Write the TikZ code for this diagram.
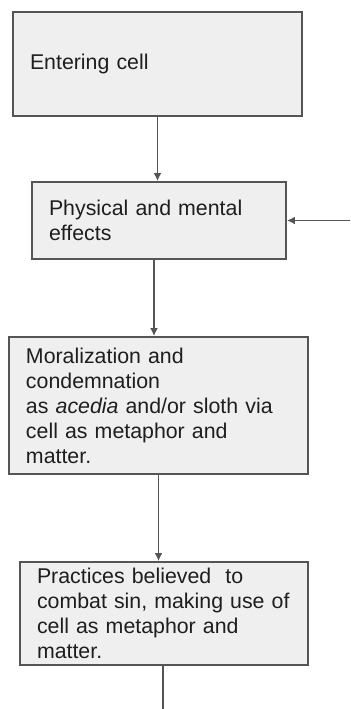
\documentclass[tikz,border=0pt]{standalone}
\usepackage{fontspec}
\setmainfont{Liberation Sans}
\usetikzlibrary{arrows.meta}
\definecolor{boxfill}{HTML}{EFEFEF}
\definecolor{boxline}{HTML}{555555}
\definecolor{inktext}{HTML}{1E1E1E}
\begin{document}
\begin{tikzpicture}[x=0.75pt,y=-0.75pt,
    stage/.style={draw=boxline, line width=1.4pt, fill=boxfill, align=left,
      inner xsep=12.75pt, inner ysep=0pt, text=inktext,
      font=\fontsize{16}{18.75}\selectfont},
    flow/.style={draw=boxline, line width=1.3pt, -{Latex[length=6pt,width=6pt]}}]
        \useasboundingbox (0,0) rectangle (350,709);

        \node[stage, text width=191.25pt, minimum height=78pt] (enter) at (157.5,64) {Entering cell};
        \node[stage, text width=165pt, minimum height=57.75pt] (effects) at (159,220.5) {Physical and mental\\effects};
        \node[stage, text width=198.75pt, minimum height=102.75pt] (moral) at (158.5,405.5) {Moralization and\\condemnation\\as \textit{acedia} and/or sloth via\\cell as metaphor and\\matter.};
        \node[stage, text width=190.5pt, minimum height=77.25pt] (practice) at (164,613.5) {Practices believed\ \ to\\combat sin, making use of\\cell as metaphor and\\matter.};

        \coordinate (loopin) at (350,220.5);
        \coordinate (loopout) at (163,709);

        \path[flow] (enter.south) -- (enter.south |- effects.north);
        \path[flow] (loopin) -- (effects.east);
        \path[flow] ([xshift=-3.75pt]effects.south) -- ([xshift=-3.75pt]effects.south |- moral.north);
        \path[flow] (moral.south) -- (moral.south |- practice.north);
        \path[draw=boxline, line width=1.3pt] (practice.south -| loopout) -- (loopout);
    \end{tikzpicture}
\end{document}
